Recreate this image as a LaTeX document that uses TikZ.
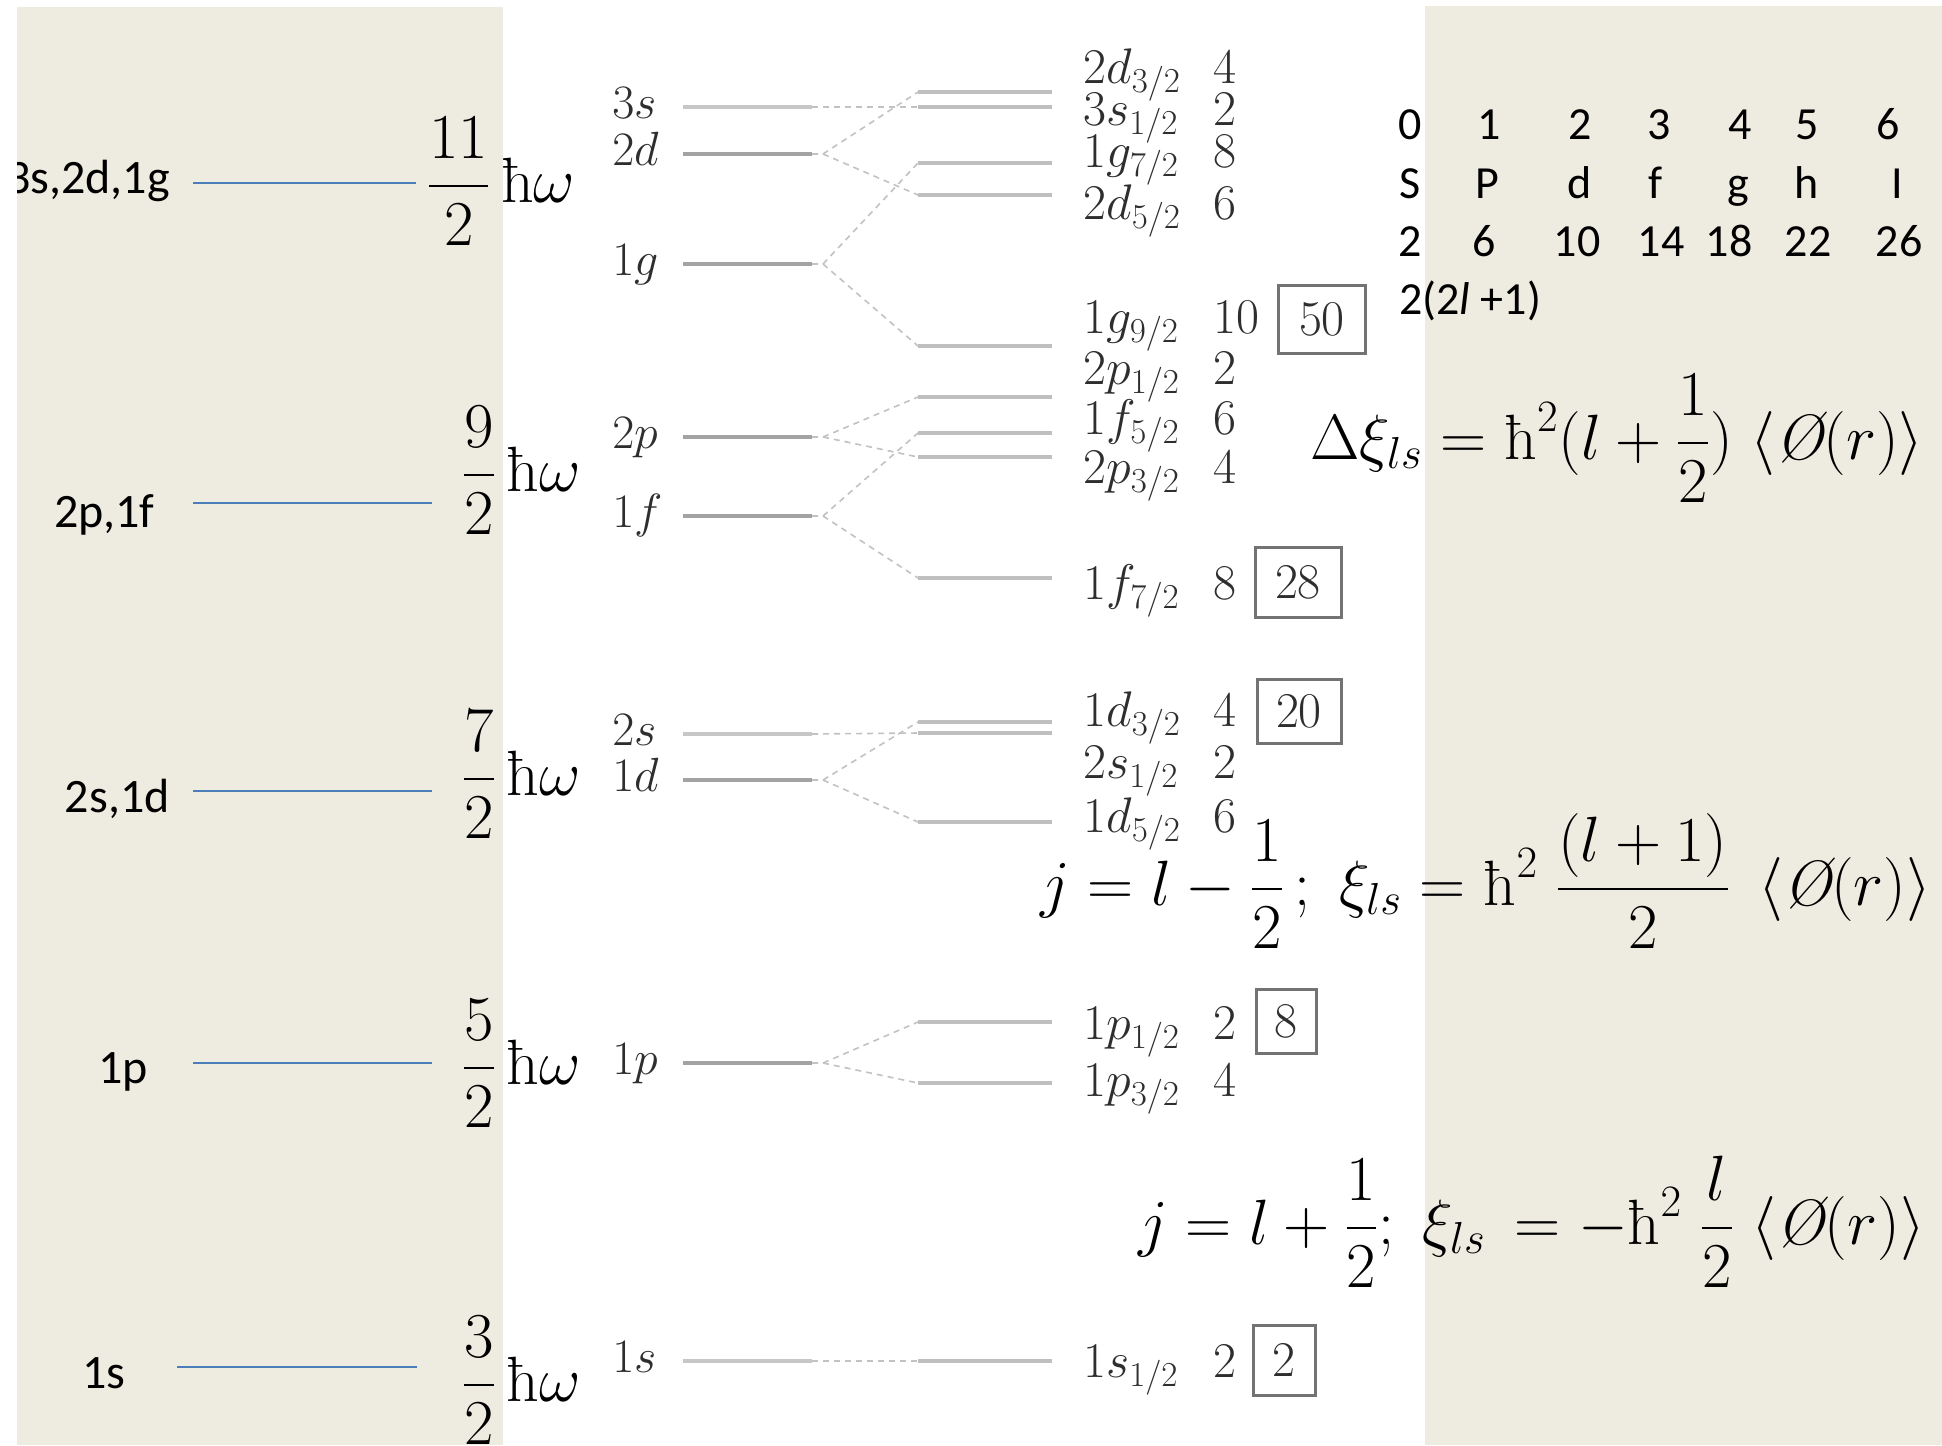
\RequirePackage{fix-cm}
\documentclass[tikz,border=0pt]{standalone}
\usepackage{amsmath}
\usepackage{fontspec}
\newfontfamily\calibri{Carlito}
\definecolor{paper}{RGB}{238,235,224}
\definecolor{oscblue}{RGB}{74,126,187}
\colorlet{lvdark}{black!36}
\colorlet{lvlight}{black!22}
\colorlet{lvright}{black!25}
% reduced Planck constant (upright) and the radial average
\newcommand{\hb}{\text{ħ}}
\newcommand{\avgphi}{\langle\textit{\O}(r)\rangle}
\tikzset{
  panel/.style={fill=paper,draw=none},
  osc/.style={draw=oscblue,line width=1.3pt},
  caltext/.style={font=\calibri\fontsize{23}{28}\selectfont,inner sep=0pt},
  shelltext/.style={font=\calibri\fontsize{24}{28}\selectfont,inner sep=0pt,anchor=base east},
  hwlabel/.style={font=\fontsize{32}{38}\selectfont,inner sep=0pt,anchor=base west},
  orb/.style={font=\fontsize{24}{28}\selectfont,text=black!82,inner sep=0pt,
    anchor=west,text height=15.5pt,text depth=0pt},
  jlab/.style={font=\fontsize{25}{28}\selectfont,text=black!82,inner sep=0pt,
    anchor=west,text height=16.1pt,text depth=0pt},
  level/.style={line width=2.2pt},
  rlevel/.style={draw=lvright,line width=2pt},
  split/.style={draw=black!24,line width=0.8pt,dash pattern=on 3pt off 2.5pt},
  magic/.style={draw=black!55,line width=1.5pt,inner sep=0pt,
    font=\fontsize{25}{28}\selectfont,text=black!82},
  eqn/.style={font=\fontsize{32}{38}\selectfont,inner sep=0pt,anchor=base west}
}
\begin{document}
\begin{tikzpicture}[x=0.5pt,y=-0.5pt]
\useasboundingbox (0,0) rectangle (1942,1445);
% background panels
\fill[white] (0,0) rectangle (1942,1445);
\fill[panel] (17,7) rectangle (503,1445);
\fill[panel] (1425,6) rectangle (1942,1445);

% oscillator shells (left)
\begin{scope}
  \clip (17,0) rectangle (503,1445);
  \node[shelltext] (n4) at (170,193) {3s,2d,1g};
\end{scope}
\node[shelltext] (n3) at (155,527) {2p,1f};
\node[shelltext] (n2) at (170,812) {2s,1d};
\node[shelltext] (n1) at (148,1083) {1p};
\node[shelltext] (n0) at (126,1388) {1s};
\coordinate (o4a) at (193,183); \coordinate (o4b) at (416,183);
\coordinate (o3a) at (193,503); \coordinate (o3b) at (432,503);
\coordinate (o2a) at (193,791); \coordinate (o2b) at (432,791);
\coordinate (o1a) at (193,1063); \coordinate (o1b) at (432,1063);
\coordinate (o0a) at (177,1367); \coordinate (o0b) at (417,1367);
\foreach \k in {0,...,4} { \draw[osc] (o\k a) -- (o\k b); }

\node[hwlabel] (e4) at (426.6,202) {$\dfrac{11}{2}\,\hb\omega$};
\node[hwlabel] (e3) at (461.6,491) {$\dfrac{9}{2}\,\hb\omega$};
\node[hwlabel] (e2) at (461.6,795) {$\dfrac{7}{2}\,\hb\omega$};
\node[hwlabel] (e1) at (461.6,1084) {$\dfrac{5}{2}\,\hb\omega$};
\node[hwlabel] (e0) at (461.6,1401) {$\dfrac{3}{2}\,\hb\omega$};

% unsplit levels
\foreach \n/\y/\c in {3s/107/lvlight,2d/154/lvdark,1g/264/lvdark,2p/437/lvdark,
    1f/516/lvdark,2s/734/lvlight,1d/780/lvdark,1p/1063/lvdark,1s/1361/lvlight} {
  \coordinate (\n-l) at (683,\y);
  \coordinate (\n-r) at (812,\y);
  \coordinate (\n-x) at (823,\y);
  \draw[level,draw=\c] (\n-l) -- (\n-r);
}
\node[orb] (t3s) at (612,103) {$3s$};
\node[orb] (t2d) at (612,150) {$2d$};
\node[orb] (t1g) at (612,260) {$1g$};
\node[orb] (t2p) at (612,433) {$2p$};
\node[orb] (t1f) at (612,512) {$1f$};
\node[orb] (t2s) at (612,730) {$2s$};
\node[orb] (t1d) at (612,776) {$1d$};
\node[orb] (t1p) at (612,1059) {$1p$};
\node[orb] (t1s) at (612,1357) {$1s$};

% spin-orbit split levels
\foreach \n/\y in {dA/92,sC/107,gA/163,dB/195,gB/346,pC/397,fA/433,pD/457,fB/578,
    dC/722,sB/733,dD/822,pA/1022,pB/1083,sA/1361} {
  \coordinate (\n-l) at (918,\y);
  \coordinate (\n-r) at (1052,\y);
  \draw[rlevel] (\n-l) -- (\n-r);
}

% splitting connectors
\draw[split] (3s-r) -- (sC-l);
\draw[split] (2d-r) -- (2d-x) -- (dA-l);
\draw[split] (2d-x) -- (dB-l);
\draw[split] (1g-r) -- (1g-x) -- (gA-l);
\draw[split] (1g-x) -- (gB-l);
\draw[split] (2p-r) -- (2p-x) -- (pC-l);
\draw[split] (2p-x) -- (pD-l);
\draw[split] (1f-r) -- (1f-x) -- (fA-l);
\draw[split] (1f-x) -- (fB-l);
\draw[split] (2s-r) -- (sB-l);
\draw[split] (1d-r) -- (1d-x) -- (dC-l);
\draw[split] (1d-x) -- (dD-l);
\draw[split] (1p-r) -- (1p-x) -- (pA-l);
\draw[split] (1p-x) -- (pB-l);
\draw[split] (1s-r) -- (sA-l);

% level names and occupancies
\foreach \n/\y/\t/\m in {
    r1/67/2d_{3/2}/4, r2/109/3s_{1/2}/2, r3/151/1g_{7/2}/8, r4/203/2d_{5/2}/6,
    r5/317/1g_{9/2}/10, r6/368/2p_{1/2}/2, r7/418/1f_{5/2}/6, r8/467/2p_{3/2}/4,
    r9/583/1f_{7/2}/8, r10/710/1d_{3/2}/4, r11/762/2s_{1/2}/2, r12/816/1d_{5/2}/6,
    r13/1023/1p_{1/2}/2, r14/1080/1p_{3/2}/4, r15/1361/1s_{1/2}/2} {
  \node[jlab] (\n) at (1083,\y) {$\t$};
  \node[jlab] (\n-occ) at (1213,\y) {$\m$};
}

% magic numbers
\node[magic,minimum width=43.5pt,minimum height=34pt] (m50) at (1322,319) {$50$};
\node[magic,minimum width=43pt,minimum height=35pt] (m28) at (1298,582) {$28$};
\node[magic,minimum width=42pt,minimum height=32pt] (m20) at (1299,711) {$20$};
\node[magic,minimum width=30pt,minimum height=32pt] (m8) at (1286,1021) {$8$};
\node[magic,minimum width=31pt,minimum height=35pt] (m2) at (1284,1360) {$2$};

% angular momentum table
\foreach \x/\t [count=\i] in {1410/0,1489/1,1580/2,1659/3,1740/4,1807/5,1888/6}
  \node[caltext,anchor=base] (ta\i) at (\x,140) {\t};
\foreach \x/\t [count=\i] in {1410/S,1487/P,1580/d,1655/f,1738/g,1807/h,1897/I}
  \node[caltext,anchor=base] (tb\i) at (\x,198) {\t};
\foreach \x/\t [count=\i] in {1410/2,1484/6,1577/10,1661/14,1729/18,1808/22,1899/26}
  \node[caltext,anchor=base] (tc\i) at (\x,256) {\t};
\node[caltext,anchor=base west] (td) at (1399,314) {2(2\textit{l} +1)};

% spin-orbit formulas
\node[eqn] (q1) at (1310,459)
  {$\Delta\xi_{ls}=\hb^2(l+\dfrac{1}{2})\;\avgphi$};
\node[eqn] (q2) at (1040,905)
  {$j=l-\dfrac{1}{2}\,;\;\xi_{ls}=\hb^2\;\dfrac{(l+1)}{2}\;\,\avgphi$};
\node[eqn] (q3) at (1138,1244)
  {$j=l+\dfrac{1}{2};\;\xi_{ls}\,=-\hb^2\;\dfrac{l}{2}\;\avgphi$};
\end{tikzpicture}
\end{document}
